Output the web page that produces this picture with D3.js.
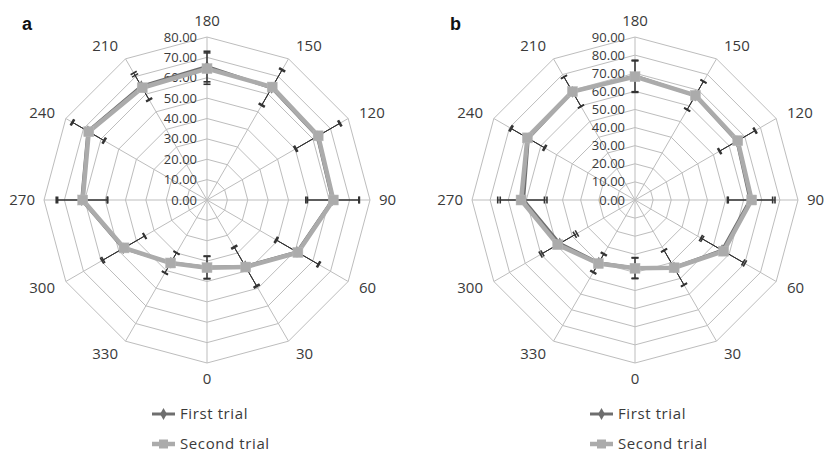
<!DOCTYPE html>
<html><head><meta charset="utf-8">
<script src="https://cdn.jsdelivr.net/npm/d3@7"></script>
<style>
html,body{margin:0;padding:0;background:#fff;}
svg{display:block;}
</style></head>
<body>
<svg id="chart" width="830" height="453"></svg>
<script>
const categories = ["180","150","120","90","60","30","0","330","300","270","240","210"];
const seriesNames = ["First trial","Second trial"];

// Panel a
const aTicks = [0,10,20,30,40,50,60,70,80];
const aFirst  = [65.5, 63.5, 62.5, 61.5, 51, 37.5, 33, 35.5, 47.5, 61.5, 67.5, 64.5];
const aFirstErr  = [7.5, 10, 12.5, 13, 12, 11, 5.5, 5.7, 12, 12.5, 9, 7.5];
const aSecond = [64.5, 64, 63, 62, 51.5, 38, 33.2, 35.7, 47, 61, 67, 63.6];
const aSecondErr = [7.7, 10, 12.5, 12.8, 12, 11, 5.5, 5.7, 11.8, 12.3, 9, 7];

// Panel b
const bTicks = [0,10,20,30,40,50,60,70,80,90];
const bFirst  = [68.5, 66.5, 65, 63.5, 55.5, 43, 37.5, 40, 48, 61.5, 68, 69];
const bFirstErr  = [8.7, 9, 11.3, 12.5, 13.5, 11, 5.7, 5.8, 11, 12.9, 10.7, 9.4];
const bSecond = [68.1, 66.7, 65.5, 64.4, 56.5, 43.2, 37.7, 40.5, 49.3, 62.9, 68.6, 69.1];
const bSecondErr = [8.7, 9, 11.3, 12.9, 13.6, 11, 5.7, 5.8, 10.9, 12.9, 10.7, 9.4];

const svg = d3.select("#chart");
const FONT = "'Open Sans', sans-serif";
const gridColor = "#bdbdbd";
const textColor = "#3a3a3a";
const firstColor = "#6e6e6e";
const secondColor = "#ababab";
const errColor = "#333";

function drawRadar(cx, cy, R, ticks, first, firstErr, second, secondErr, panelLabel, legendX) {
  const g = svg.append("g").attr("transform", `translate(${cx},${cy})`);
  const maxV = ticks[ticks.length-1];
  const r = d3.scaleLinear().domain([0, maxV]).range([0, R]);
  const ang = d3.scalePoint().domain(categories).range([0, 2*Math.PI*(categories.length-1)/categories.length]);
  const pt = (c, v) => { const a = ang(c); return [r(v)*Math.sin(a), -r(v)*Math.cos(a)]; };

  // grid rings
  ticks.slice(1).forEach(t => {
    g.append("path")
      .attr("d", d3.line()(categories.map(c => pt(c, t))) + "Z")
      .attr("fill", "none").attr("stroke", gridColor).attr("stroke-width", 1);
  });
  // spokes
  categories.forEach(c => {
    const p = pt(c, maxV);
    g.append("line").attr("x1", 0).attr("y1", 0).attr("x2", p[0]).attr("y2", p[1])
      .attr("stroke", gridColor).attr("stroke-width", 1);
  });
  // tick labels
  ticks.forEach(t => {
    g.append("text").attr("x", -10).attr("y", -r(t)).attr("dy", "0.35em")
      .attr("text-anchor", "end").attr("font-family", FONT).attr("font-size", 13)
      .attr("fill", textColor).text(d3.format(".2f")(t));
  });
  // category labels
  categories.forEach(c => {
    const a = ang(c), s = Math.sin(a), co = Math.cos(a);
    const rr = R + 9 + 7*Math.abs(co);
    const x = rr*s, y = -rr*co;
    const anchor = Math.abs(s) < 0.1 ? "middle" : (s > 0 ? "start" : "end");
    g.append("text").attr("x", x).attr("y", y).attr("dy", "0.35em")
      .attr("text-anchor", anchor).attr("font-family", FONT).attr("font-size", 15)
      .attr("fill", textColor).text(c);
  });

  const line = d3.line().curve(d3.curveLinearClosed);
  function drawSeries(vals, errs, color, width, marker) {
    g.append("path").attr("d", line(categories.map((c,i) => pt(c, vals[i]))))
      .attr("fill", "none").attr("stroke", color).attr("stroke-width", width)
      .attr("stroke-linejoin", "round");
    categories.forEach((c,i) => {
      const a = ang(c);
      const p1 = pt(c, vals[i]-errs[i]), p2 = pt(c, vals[i]+errs[i]);
      g.append("line").attr("x1", p1[0]).attr("y1", p1[1]).attr("x2", p2[0]).attr("y2", p2[1])
        .attr("stroke", errColor).attr("stroke-width", 1);
      [p1, p2].forEach(p => {
        const dx = 3.5*Math.cos(a), dy = 3.5*Math.sin(a);
        g.append("line").attr("x1", p[0]-dx).attr("y1", p[1]-dy).attr("x2", p[0]+dx).attr("y2", p[1]+dy)
          .attr("stroke", errColor).attr("stroke-width", 1.6);
      });
    });
    categories.forEach((c,i) => {
      const p = pt(c, vals[i]);
      if (marker === "square") {
        g.append("rect").attr("x", p[0]-5).attr("y", p[1]-5).attr("width", 10).attr("height", 10)
          .attr("fill", color).attr("stroke", "#b8b8b8").attr("stroke-width", 0.5);
      } else {
        g.append("path").attr("d", d3.symbol(d3.symbolDiamond, 40)())
          .attr("transform", `translate(${p[0]},${p[1]})`).attr("fill", color);
      }
    });
  }
  drawSeries(first, firstErr, firstColor, 3, "diamond");
  drawSeries(second, secondErr, secondColor, 4.5, "square");

  svg.append("text").attr("x", cx - 185).attr("y", 30).attr("font-family", "'Liberation Sans', Arial, sans-serif")
    .attr("font-weight", "bold").attr("font-size", 18).attr("fill", "#111").text(panelLabel);

  const leg = svg.append("g").attr("transform", `translate(${legendX},0)`);
  const legY = [414, 444];
  [[firstColor, 3, "diamond"], [secondColor, 4.5, "square"]].forEach((d, i) => {
    leg.append("line").attr("x1", 0).attr("x2", 23).attr("y1", legY[i]).attr("y2", legY[i])
      .attr("stroke", d[0]).attr("stroke-width", d[1]);
    if (d[2] === "square") {
      leg.append("rect").attr("x", 7).attr("y", legY[i]-4.5).attr("width", 9).attr("height", 9).attr("fill", d[0]);
    } else {
      leg.append("path").attr("d", d3.symbol(d3.symbolDiamond, 40)())
        .attr("transform", `translate(11.5,${legY[i]})`).attr("fill", d[0]);
    }
    leg.append("text").attr("x", 28).attr("y", legY[i]).attr("dy", "0.35em")
      .attr("font-family", FONT).attr("font-size", 15).attr("letter-spacing", 0.6)
      .attr("fill", textColor).text(seriesNames[i]);
  });
}

drawRadar(207, 200, 163, aTicks, aFirst, aFirstErr, aSecond, aSecondErr, "a", 152);
drawRadar(635, 200, 163, bTicks, bFirst, bFirstErr, bSecond, bSecondErr, "b", 590);
</script>
</body></html>
